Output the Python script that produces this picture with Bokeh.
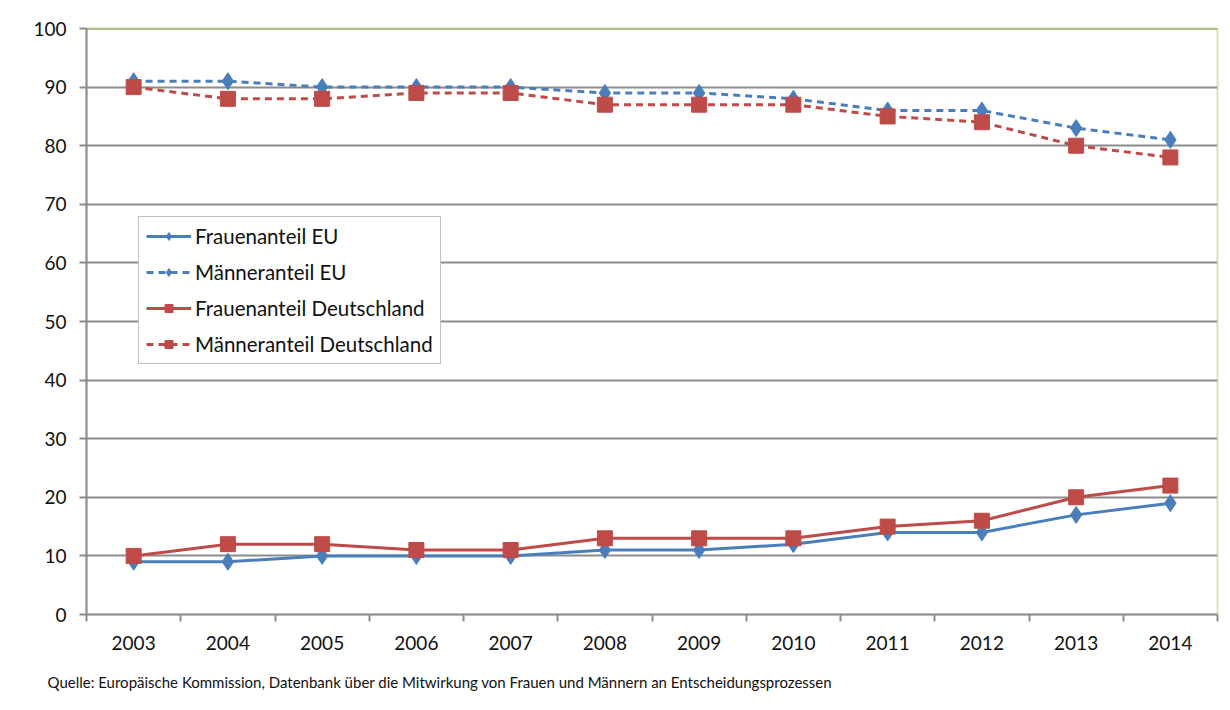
from bokeh.plotting import figure
from bokeh.models import FixedTicker, Span, Legend, LegendItem, Title, Range1d
from bokeh.embed import file_html
from bokeh.resources import INLINE

years = ["2003", "2004", "2005", "2006", "2007", "2008", "2009", "2010", "2011", "2012", "2013", "2014"]
frauen_eu = [9, 9, 10, 10, 10, 11, 11, 12, 14, 14, 17, 19]
maenner_eu = [91, 91, 90, 90, 90, 89, 89, 88, 86, 86, 83, 81]
frauen_de = [10, 12, 12, 11, 11, 13, 13, 13, 15, 16, 20, 22]
maenner_de = [90, 88, 88, 89, 89, 87, 87, 87, 85, 84, 80, 78]
y_ticks = [0, 10, 20, 30, 40, 50, 60, 70, 80, 90, 100]
source = "Quelle: Europäische Kommission, Datenbank über die Mitwirkung von Frauen und Männern an Entscheidungsprozessen"

FONT = "Lato"
BLUE = "#4a7ebb"
RED = "#be4b48"
GRID = "#8c8c8c"

xs = list(range(len(years)))

p = figure(width=1220, height=708, output_backend="svg", toolbar_location=None,
           x_range=Range1d(-0.5, len(years) - 0.5), y_range=Range1d(0, 100),
           min_border_left=86, min_border_right=3, min_border_top=28, min_border_bottom=94)

p.outline_line_color = "#d7e4bd"
p.outline_line_width = 2

# axes
p.yaxis.ticker = FixedTicker(ticks=y_ticks)
p.yaxis.major_tick_out = 7
p.yaxis.major_tick_in = 0
p.yaxis.minor_tick_out = 0
p.yaxis.axis_line_color = GRID
p.yaxis.axis_line_width = 2
p.yaxis.major_tick_line_color = GRID
p.yaxis.major_tick_line_width = 2
p.yaxis.major_label_text_font = FONT
p.yaxis.major_label_text_font_size = "19px"
p.yaxis.major_label_text_color = "#111111"
p.yaxis.major_label_standoff = 13

bounds = [i - 0.5 for i in range(len(years) + 1)]
p.xaxis.ticker = FixedTicker(ticks=xs, minor_ticks=bounds)
p.xaxis.major_label_overrides = {i: y for i, y in enumerate(years)}
p.xaxis.major_tick_out = 0
p.xaxis.major_tick_in = 0
p.xaxis.minor_tick_out = 7
p.xaxis.minor_tick_in = 0
p.xaxis.minor_tick_line_color = GRID
p.xaxis.minor_tick_line_width = 2
p.xaxis.axis_line_color = GRID
p.xaxis.axis_line_width = 2
p.xaxis.major_label_text_font = FONT
p.xaxis.major_label_text_font_size = "19px"
p.xaxis.major_label_text_color = "#111111"
p.xaxis.major_label_standoff = 14

p.xgrid.grid_line_color = None
p.ygrid.ticker = FixedTicker(ticks=y_ticks[1:-1])
p.ygrid.grid_line_color = GRID
p.ygrid.grid_line_width = 2

p.add_layout(Span(location=100, dimension="width", line_color="#77933c", line_width=2))

items = []
r1 = p.line(xs, frauen_eu, line_color=BLUE, line_width=3)
m1 = p.scatter(xs, frauen_eu, marker="diamond", size=17, fill_color=BLUE, line_color=BLUE)
items.append(LegendItem(label="Frauenanteil EU", renderers=[r1, m1]))

r2 = p.line(xs, maenner_eu, line_color=BLUE, line_width=3, line_dash="7 5")
m2 = p.scatter(xs, maenner_eu, marker="diamond", size=17, fill_color=BLUE, line_color=BLUE)
items.append(LegendItem(label="Männeranteil EU", renderers=[r2, m2]))

r3 = p.line(xs, frauen_de, line_color=RED, line_width=3)
m3 = p.scatter(xs, frauen_de, marker="square", size=15, fill_color=RED, line_color=RED)
items.append(LegendItem(label="Frauenanteil Deutschland", renderers=[r3, m3]))

r4 = p.line(xs, maenner_de, line_color=RED, line_width=3, line_dash="7 5")
m4 = p.scatter(xs, maenner_de, marker="square", size=15, fill_color=RED, line_color=RED)
items.append(LegendItem(label="Männeranteil Deutschland", renderers=[r4, m4]))

legend = Legend(items=items, location=(52, 250), glyph_width=45, glyph_height=20,
                label_height=20, spacing=12, padding=7, margin=0, label_standoff=4,
                label_text_font=FONT, label_text_font_size="20.5px", label_text_color="#111111",
                border_line_color="#7f7f7f", border_line_width=1.5, background_fill_alpha=1)
p.add_layout(legend, "center")

p.add_layout(Title(text=source, align="left", offset=-39, standoff=36,
                   text_font=FONT, text_font_size="15px", text_color="#111111",
                   text_font_style="normal"), "below")

open("out.html", "w").write(file_html(p, INLINE))
